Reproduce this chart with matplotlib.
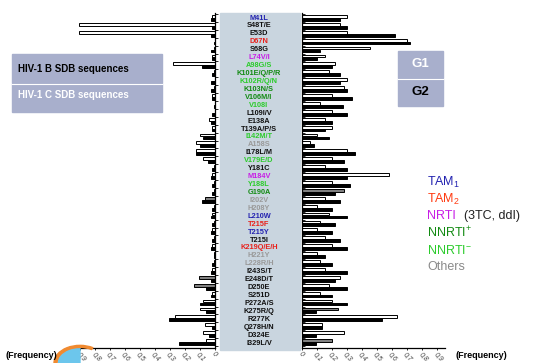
import numpy as np
import matplotlib.pyplot as plt
from matplotlib.patches import Rectangle, Wedge

plt.rcParams['font.family'] = ['Liberation Sans', 'DejaVu Sans']
plt.rcParams['mathtext.fontset'] = 'custom'
plt.rcParams['mathtext.rm'] = 'Liberation Sans'
plt.rcParams['mathtext.it'] = 'Liberation Sans'

# mutations, top to bottom, and their drug class
mutations = ['M41L', 'S48T/E', 'E53D', 'D67N', 'S68G', 'L74V/I', 'A98G/S',
             'K101E/Q/P/R', 'K102R/Q/N', 'K103N/S', 'V106M/I', 'V108I',
             'L109I/V', 'E138A', 'T139A/P/S', 'I142M/T', 'A158S', 'I178L/M',
             'V179E/D', 'Y181C', 'M184V', 'Y188L', 'G190A', 'I202V', 'H208Y',
             'L210W', 'T215F', 'T215Y', 'T215I', 'K219Q/E/H', 'H221Y',
             'L228R/H', 'I243S/T', 'E248D/T', 'D250E', 'S251D', 'P272A/S',
             'K275R/Q', 'R277K', 'Q278H/N', 'D324E', 'I329L/V']
groups = ['TAM1', '', '', 'TAM2', '', 'NRTI', 'NNRTI-',
          'NNRTI+', 'NNRTI-', 'NNRTI+', 'NNRTI+', 'NNRTI-',
          '', '', '', 'NNRTI-', 'Other', '',
          'NNRTI-', '', 'NRTI', 'NNRTI-', 'NNRTI+', 'Other', 'Other',
          'TAM1', 'TAM2', 'TAM1', '', 'TAM2', 'Other',
          'Other', '', '', '', '', '',
          '', '', '', '', '']

# frequencies, left side (HIV-1 B) and right side (HIV-1 C)
left_white = [0.02, 0.91, 0.91, 0.00, 0.01, 0.02, 0.28, 0.01, 0.00, 0.01, 0.02, 0.00,
              0.00, 0.04, 0.02, 0.10, 0.13, 0.13, 0.08, 0.01, 0.02, 0.01, 0.01, 0.00,
              0.01, 0.02, 0.01, 0.02, 0.01, 0.02, 0.01, 0.01, 0.02, 0.00, 0.00, 0.02,
              0.08, 0.10, 0.27, 0.07, 0.08, 0.06]
left_grey = [0] * 23 + [0.07] + [0] * 9 + [0.11, 0.14] + [0] * 7
left_black = [0.03, 0.02, 0.03, 0.01, 0.03, 0.02, 0.09, 0.02, 0.03, 0.03, 0.02, 0.01,
              0.02, 0.03, 0.02, 0.08, 0.10, 0.13, 0.05, 0.02, 0.03, 0.02, 0.02, 0.09,
              0.02, 0.03, 0.02, 0.03, 0.02, 0.03, 0.01, 0.02, 0.03, 0.03, 0.06, 0.03,
              0.10, 0.06, 0.31, 0.02, 0.04, 0.24]

right_white = [0.30, 0.25, 0.30, 0.70, 0.45, 0.15, 0.22, 0.18, 0.30, 0.28, 0.20, 0.12,
               0.20, 0.15, 0.20, 0.10, 0.05, 0.30, 0.20, 0.15, 0.58, 0.20, 0.00, 0.15,
               0.10, 0.18, 0.12, 0.10, 0.15, 0.20, 0.10, 0.12, 0.15, 0.25, 0.18, 0.12,
               0.20, 0.00, 0.63, 0.13, 0.28, 0.00]
right_grey = [0] * 22 + [0.28] + [0] * 14 + [0.24] + [0] * 3 + [0.20]
right_black = [0.25, 0.30, 0.62, 0.72, 0.12, 0.10, 0.20, 0.25, 0.25, 0.30, 0.33, 0.27,
               0.30, 0.20, 0.15, 0.18, 0.08, 0.35, 0.28, 0.30, 0.30, 0.32, 0.22, 0.25,
               0.20, 0.30, 0.22, 0.20, 0.25, 0.30, 0.15, 0.20, 0.30, 0.22, 0.30, 0.20,
               0.30, 0.09, 0.53, 0.13, 0.09, 0.09]

freq_ticks = np.arange(0, 1.0, 0.1)
freq_labels = ['0'] + ['0,%d' % i for i in range(1, 10)]

colors = {'TAM1': '#2323b0', 'TAM2': '#e8201a', 'NRTI': '#c81ee6',
          'NNRTI+': '#128a12', 'NNRTI-': '#2ccc2c', 'Other': '#9a9a9a', '': '#111111'}

W, H = 535, 363
fig = plt.figure(figsize=(W / 100, H / 100), dpi=100)

# label panel
fig.patches.append(Rectangle((220 / W, 1 - 350 / H), 80 / W, 337 / H,
                             transform=fig.transFigure, color='#c9d5df', zorder=0))

# logo (drawn first so text sits on top)
fig.patches.append(Wedge((80 / W, 0), 22 / W, 90, 180, color='#6cc6ec',
                         transform=fig.transFigure, zorder=0))
fig.patches.append(Wedge((80 / W, 0), 26 / W, 60, 180, width=3 / W, color='#f08a30',
                         transform=fig.transFigure, zorder=0))

y = np.arange(len(mutations))
ylim = (41.74, -0.63)
axL = fig.add_axes([76 / W, 15 / H, 139 / W, 335 / H])
axR = fig.add_axes([302 / W, 15 / H, 143 / W, 335 / H])

for ax, white, grey, black in [(axL, left_white, left_grey, left_black),
                               (axR, right_white, right_grey, right_black)]:
    ax.barh(y - 0.2, white, height=0.36, color='white', edgecolor='black', lw=0.7)
    ax.barh(y - 0.2, grey, height=0.36, color='#808080', edgecolor='black', lw=0.7)
    ax.barh(y + 0.17, black, height=0.36, color='black', edgecolor='black', lw=0.7)
    ax.set_ylim(*ylim)
    ax.patch.set_visible(False)
    ax.set_yticks(np.arange(-0.5, 42, 1))
    ax.set_yticklabels([])
    ax.set_xticks(freq_ticks)
    ax.set_xticklabels(freq_labels, rotation=-45, fontsize=5, style='italic',
                       color='#444444', ha='left', va='top', rotation_mode='anchor')
    ax.tick_params(axis='x', length=1.5, width=0.6, pad=0.5)
    ax.tick_params(axis='y', length=2, width=0.6)
    for s in ax.spines.values():
        s.set_linewidth(0.9)
    ax.spines['top'].set_visible(False)

axL.set_xlim(0.93, 0)
axL.spines['left'].set_visible(False)
axL.yaxis.tick_right()
axL.tick_params(axis='y', direction='out')

axR.set_xlim(0, 0.95)
axR.spines['right'].set_visible(False)
axR.tick_params(axis='y', direction='in')

for i, (m, g) in enumerate(zip(mutations, groups)):
    fig.text(259 / W, 1 - (18 + 7.93 * i) / H, m, fontsize=5.3, fontweight='bold',
             color=colors[g], ha='center', va='center')

# HIV-1 legend boxes
fig.patches.append(Rectangle((12 / W, 1 - 83 / H), 150 / W, 29 / H,
                             transform=fig.transFigure, color='#a8afcc', zorder=0))
fig.patches.append(Rectangle((12 / W, 1 - 112 / H), 150 / W, 28 / H,
                             transform=fig.transFigure, color='#a8afcc', zorder=0))
fig.add_artist(plt.Line2D([12 / W, 162 / W], [1 - 83.5 / H] * 2, color='white', lw=0.8))
fig.text(18 / W, 1 - 69 / H, 'HIV-1 B SDB sequences', fontsize=7, fontweight='bold',
         color='black', va='center')
fig.text(18 / W, 1 - 95 / H, 'HIV-1 C SDB sequences', fontsize=7, fontweight='bold',
         color='white', va='center')

# G1 / G2 boxes
fig.patches.append(Rectangle((398 / W, 1 - 78 / H), 45 / W, 27 / H,
                             transform=fig.transFigure, color='#a8afcc', zorder=0))
fig.patches.append(Rectangle((398 / W, 1 - 106 / H), 45 / W, 27 / H,
                             transform=fig.transFigure, color='#a8afcc', zorder=0))
fig.add_artist(plt.Line2D([398 / W, 443 / W], [1 - 78.5 / H] * 2, color='white', lw=0.8))
fig.text(420 / W, 1 - 64 / H, 'G1', fontsize=9.5, fontweight='bold', color='white',
         ha='center', va='center')
fig.text(420 / W, 1 - 92 / H, 'G2', fontsize=9.5, fontweight='bold', color='black',
         ha='center', va='center')

# class legend
legend_items = [('TAM$_1$', colors['TAM1']), ('TAM$_2$', '#ff3a10'),
                ('NRTI', colors['NRTI']), ('NNRTI$^{+}$', colors['NNRTI+']),
                ('NNRTI$^{-}$', colors['NNRTI-']), ('Others', '#8a8a8a')]
for k, (txt, c) in enumerate(legend_items):
    fig.text(427 / W, 1 - (182 + 17 * k) / H, txt, fontsize=9, color=c, va='center')
fig.text(464 / W, 1 - 216 / H, '(3TC, ddI)', fontsize=9, color='#222222', va='center')

fig.text(5 / W, 1 - 355 / H, '(Frequency)', fontsize=6.5, fontweight='bold', va='center')
fig.text(455 / W, 1 - 355 / H, '(Frequency)', fontsize=6.5, fontweight='bold', va='center')

fig.savefig('out.png', dpi=100)
